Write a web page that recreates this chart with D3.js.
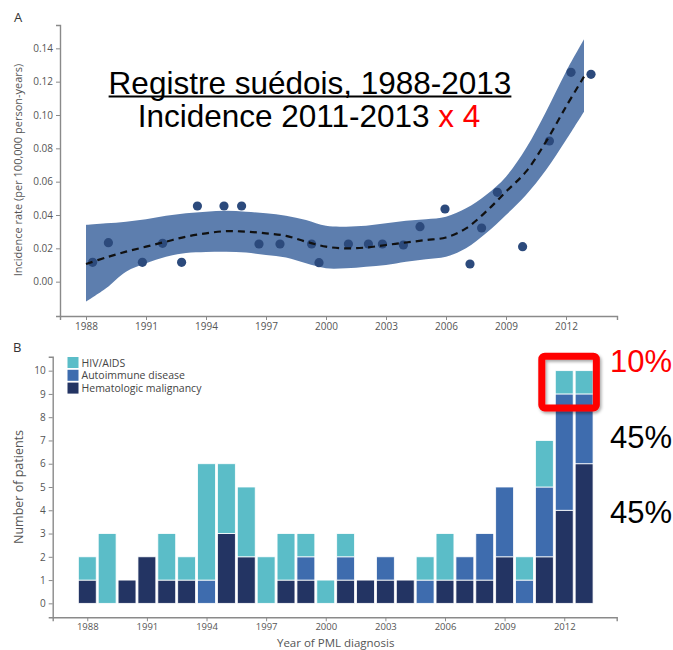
<!DOCTYPE html>
<html>
<head>
<meta charset="utf-8">
<script src="https://cdn.jsdelivr.net/npm/d3@7"></script>
<style>
  html, body { margin: 0; padding: 0; background: #fff; }
  svg { display: block; }
  .tick text { font-family: "Open Sans", sans-serif; fill: #555; }
</style>
</head>
<body>
<div id="chart"></div>
<script>
// ---- Panel A: yearly incidence (per 100,000 person-years) ----
const pointYears = [1988.33, 1989.12, 1990.82, 1991.83, 1992.78, 1993.57, 1994.9, 1995.78,
  1996.65, 1997.7, 1999.28, 1999.65, 2001.12, 2002.12, 2002.82, 2003.87, 2004.7, 2005.95,
  2007.2, 2007.78, 2008.57, 2009.83, 2011.17, 2012.25, 2013.25];
const pointRates = [0.0116, 0.0234, 0.0116, 0.023, 0.0116, 0.0454, 0.0454, 0.0454,
  0.0226, 0.0226, 0.0226, 0.0114, 0.0226, 0.0226, 0.0226, 0.022, 0.033, 0.0436,
  0.0106, 0.0322, 0.0536, 0.021, 0.0844, 0.1256, 0.1244];

// smoothed trend with its confidence band
const fitYears = [1988, 1989, 1990, 1991, 1992, 1993, 1994, 1995, 1996, 1997, 1998, 1999, 2000,
  2001, 2002, 2003, 2004, 2005, 2006, 2007, 2008, 2009, 2010, 2011, 2012, 2012.9];
const fitMean = [0.0106, 0.0145, 0.018, 0.021, 0.024, 0.027, 0.029, 0.0303, 0.030, 0.029, 0.0275,
  0.024, 0.021, 0.020, 0.0205, 0.022, 0.0235, 0.025, 0.0265, 0.032, 0.042, 0.054, 0.066, 0.084,
  0.105, 0.123];
const fitLower = [-0.012, -0.004, 0.006, 0.011, 0.015, 0.0172, 0.0178, 0.018, 0.0175, 0.016, 0.0145,
  0.011, 0.008, 0.008, 0.009, 0.010, 0.012, 0.0135, 0.015, 0.020, 0.029, 0.040, 0.052, 0.067,
  0.085, 0.102];
const fitUpper = [0.034, 0.035, 0.036, 0.0375, 0.0395, 0.041, 0.042, 0.0426, 0.042, 0.041, 0.0395,
  0.037, 0.0335, 0.033, 0.0335, 0.035, 0.0365, 0.0375, 0.039, 0.044, 0.052, 0.063, 0.080, 0.102,
  0.126, 0.1454];
const rateTicks = [0, 0.02, 0.04, 0.06, 0.08, 0.10, 0.12, 0.14];
const yearTicks = [1988, 1991, 1994, 1997, 2000, 2003, 2006, 2009, 2012];

// ---- Panel B: patients per year by underlying condition ----
const years = d3.range(1988, 2014);
const hematologic = [1, 0, 1, 2, 1, 1, 0, 3, 2, 0, 1, 1, 0, 1, 1, 1, 1, 0, 1, 1, 1, 2, 0, 2, 4, 6];
const autoimmune  = [0, 0, 0, 0, 0, 0, 1, 0, 0, 0, 0, 1, 0, 1, 0, 1, 0, 1, 0, 1, 2, 3, 1, 3, 5, 3];
const hivAids     = [1, 3, 0, 0, 2, 1, 5, 3, 3, 2, 2, 1, 1, 1, 0, 0, 0, 1, 2, 0, 0, 0, 1, 2, 1, 1];
const seriesNames = ["Hematologic malignancy", "Autoimmune disease", "HIV/AIDS"];
const legendOrder = ["HIV/AIDS", "Autoimmune disease", "Hematologic malignancy"];
const seriesColors = { "HIV/AIDS": "#5bbdc8", "Autoimmune disease": "#3e6cae", "Hematologic malignancy": "#233463" };
const countTicks = d3.range(0, 11);

const titleLine1 = "Registre suédois, 1988-2013";
const titleLine2 = "Incidence 2011-2013 ";
const titleAccent = "x 4";
const shareLabels = ["10%", "45%", "45%"];

const W = 673, H = 650;
const svg = d3.select("#chart").append("svg").attr("width", W).attr("height", H);
const axisGrey = "#8a8a8a";
const font = "'Open Sans', sans-serif";

const defs = svg.append("defs");
const shadow = defs.append("filter").attr("id", "shadow").attr("x", "-20%").attr("y", "-20%").attr("width", "140%").attr("height", "140%");
shadow.append("feDropShadow").attr("dx", 1.5).attr("dy", 2).attr("stdDeviation", 1.5)
  .attr("flood-color", "#000").attr("flood-opacity", 0.35);

function styleAxis(g) {
  g.select(".domain").attr("stroke", axisGrey).attr("stroke-width", 1.4);
  g.selectAll(".tick line").attr("stroke", axisGrey).attr("stroke-width", 1);
  g.selectAll(".tick text").attr("font-size", 10).attr("fill", "#555");
}

// ===== Panel A =====
const xA = d3.scaleLinear().domain([1986.7, 2014.55]).range([60, 617]);
const yA = d3.scaleLinear().domain([-0.0206, 0.154]).range([316, 25]);

const bandData = fitYears.map((yr, i) => ({ yr, lo: fitLower[i], hi: fitUpper[i], m: fitMean[i] }));

svg.append("path")
  .datum(bandData)
  .attr("fill", "#5d7eae")
  .attr("d", d3.area().curve(d3.curveCatmullRom)
    .x(d => xA(d.yr)).y0(d => yA(d.lo)).y1(d => yA(d.hi)));

svg.append("g").selectAll("circle")
  .data(pointYears.map((yr, i) => ({ yr, v: pointRates[i] })))
  .join("circle")
  .attr("cx", d => xA(d.yr)).attr("cy", d => yA(d.v)).attr("r", 4.6)
  .attr("fill", "#2c4a7c");

svg.append("path")
  .datum(bandData)
  .attr("fill", "none").attr("stroke", "#111").attr("stroke-width", 2.2)
  .attr("stroke-dasharray", "7,5")
  .attr("d", d3.line().curve(d3.curveCatmullRom).x(d => xA(d.yr)).y(d => yA(d.m)));

svg.append("g").attr("transform", "translate(0,316)")
  .call(d3.axisBottom(xA).tickValues(yearTicks).tickFormat(d3.format("d")).tickSize(4).tickPadding(3))
  .call(styleAxis);
svg.append("g").attr("transform", "translate(60,0)")
  .call(d3.axisLeft(yA).tickValues(rateTicks).tickFormat(d3.format(".2f")).tickSize(4).tickPadding(3))
  .call(styleAxis);

svg.append("text")
  .attr("transform", "translate(22,170) rotate(-90)")
  .attr("text-anchor", "middle").attr("font-family", font).attr("font-size", 11).attr("fill", "#555")
  .text("Incidence rate (per 100,000 person-years)");

svg.append("text").attr("x", 14).attr("y", 22).attr("font-family", font).attr("font-size", 13)
  .attr("fill", "#333").text("A");

// overlay title
const t1 = svg.append("text").attr("x", 310).attr("y", 93.5).attr("text-anchor", "middle")
  .attr("font-family", "'Liberation Sans', Arial, sans-serif").attr("font-size", 31.5).attr("fill", "#000")
  .text(titleLine1);
const b1 = t1.node().getBBox();
svg.append("line").attr("x1", b1.x).attr("x2", b1.x + b1.width).attr("y1", 96.5).attr("y2", 96.5)
  .attr("stroke", "#000").attr("stroke-width", 2);

const t2 = svg.append("text").attr("x", 309).attr("y", 127.3).attr("text-anchor", "middle")
  .attr("font-family", "'Liberation Sans', Arial, sans-serif").attr("font-size", 31.5).attr("fill", "#000");
t2.append("tspan").text(titleLine2);
t2.append("tspan").attr("fill", "#ff0000").text(titleAccent);

// ===== Panel B =====
const xB = d3.scaleLinear().domain([1986.26, 2014.64]).range([52.7, 616.7]);
const yB = d3.scaleLinear().domain([-0.6, 10.6]).range([617.3, 356.7]);
const step = xB(1989) - xB(1988);
const bw = step * 0.9;

const rows = years.map((yr, i) => ({
  yr,
  "Hematologic malignancy": hematologic[i],
  "Autoimmune disease": autoimmune[i],
  "HIV/AIDS": hivAids[i]
}));
const stacked = d3.stack().keys(seriesNames)(rows);

svg.append("g").selectAll("g")
  .data(stacked).join("g")
  .attr("fill", d => seriesColors[d.key])
  .selectAll("rect")
  .data(d => d.filter(s => s[1] > s[0]))
  .join("rect")
  .attr("x", d => xB(d.data.yr) - bw / 2)
  .attr("width", bw)
  .attr("y", d => yB(d[1]))
  .attr("height", d => yB(d[0]) - yB(d[1]))
  .attr("stroke", "#fff").attr("stroke-width", 0.8);

svg.append("g").attr("transform", "translate(0,617.3)")
  .call(d3.axisBottom(xB).tickValues(yearTicks).tickFormat(d3.format("d")).tickSize(4).tickPadding(2))
  .call(styleAxis)
  .call(g => g.selectAll(".tick text").attr("font-size", 9.5));
svg.append("g").attr("transform", "translate(52.7,0)")
  .call(d3.axisLeft(yB).tickValues(countTicks).tickFormat(d3.format("d")).tickSize(4).tickPadding(3))
  .call(styleAxis);

svg.append("text").attr("x", xB(2000.5)).attr("y", 646.5)
  .attr("text-anchor", "middle").attr("font-family", font).attr("font-size", 11.5).attr("fill", "#555")
  .text("Year of PML diagnosis");
svg.append("text")
  .attr("transform", "translate(23," + yB(5) + ") rotate(-90)")
  .attr("text-anchor", "middle").attr("font-family", font).attr("font-size", 12.5).attr("fill", "#555")
  .text("Number of patients");

svg.append("text").attr("x", 13).attr("y", 352).attr("font-family", font).attr("font-size", 13)
  .attr("fill", "#333").text("B");

// legend
const lg = svg.append("g").attr("transform", "translate(67.5,357)");
legendOrder.forEach((name, i) => {
  const row = lg.append("g").attr("transform", `translate(0,${i * 12.8})`);
  row.append("rect").attr("width", 11).attr("height", 11).attr("fill", seriesColors[name]);
  row.append("text").attr("x", 14).attr("y", 9.5).attr("font-family", font).attr("font-size", 10.5)
    .attr("fill", "#444").text(name);
});

// highlight box around the HIV share of 2012-2013
const boxL = xB(2012) - bw / 2 - 13.5;
const boxR = xB(2013) + bw / 2 + 3.3;
const boxT = yB(10) - 14.5;
const boxB = yB(9) + 14;
svg.append("rect")
  .attr("x", boxL).attr("y", boxT).attr("width", boxR - boxL).attr("height", boxB - boxT)
  .attr("rx", 3).attr("fill", "none").attr("stroke", "#ff0000").attr("stroke-width", 7)
  .attr("filter", "url(#shadow)");

const shareY = [371.7, 448.3, 523.3];
const shareColor = ["#ff0000", "#000", "#000"];
shareLabels.forEach((s, i) => {
  svg.append("text").attr("x", 610).attr("y", shareY[i])
    .attr("font-family", "'Liberation Sans', Arial, sans-serif").attr("font-size", 31)
    .attr("fill", shareColor[i]).text(s);
});
</script>
</body>
</html>
